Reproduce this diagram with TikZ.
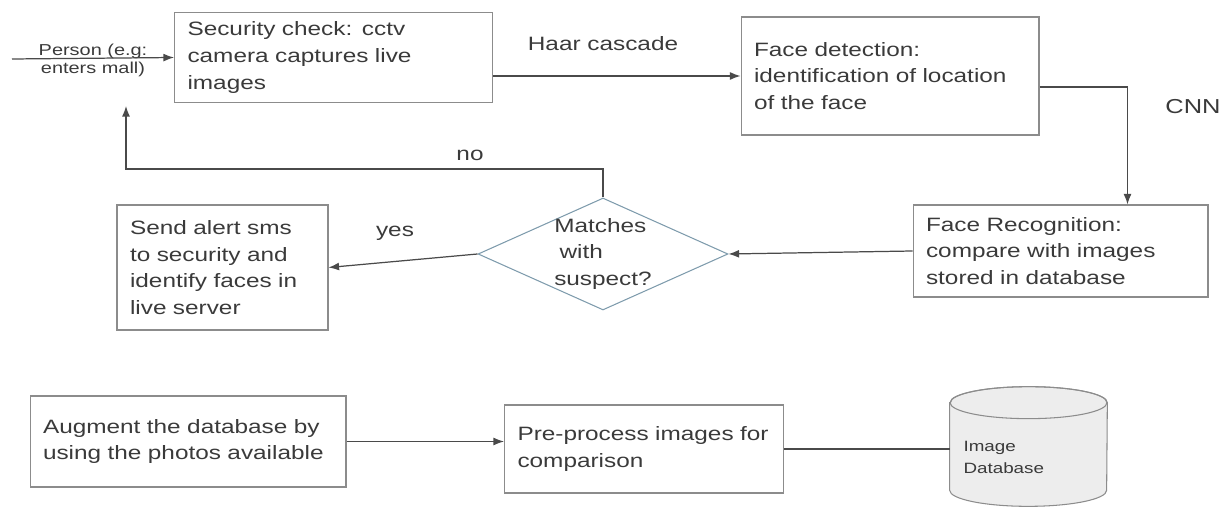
\documentclass[tikz,border=0pt]{standalone}
\usepackage{fontspec}
\setmainfont{Liberation Sans}[FakeStretch=1.26]
\usetikzlibrary{shapes.geometric,arrows.meta,calc,backgrounds}

\definecolor{boxline}{HTML}{8C8C8C}
\definecolor{txtgray}{HTML}{3A3A3A}
\definecolor{wire}{HTML}{4A4A4A}
\definecolor{dialine}{HTML}{7E9BAC}
\definecolor{dbfill}{HTML}{EDEDED}

\begin{document}
\begin{tikzpicture}[x=0.02cm, y=-0.02cm]
    % ===== PARAMETERS =====
    \pgfmathsetmacro{\PX}{0.02}    % one reference pixel in cm
    \pgfmathsetmacro{\Pad}{13*\PX} % left padding of the box text
    \pgfmathsetmacro{\LW}{0.6}     % line width in pt

    % ===== STYLES =====
    \tikzset{
        stepbox/.style={
            draw=boxline, line width=\LW pt, text=txtgray,
            font=\fontsize{11}{15.2}\selectfont, align=left,
            inner xsep=\Pad cm, inner ysep=0pt
        },
        flow/.style={draw=wire, line width=0.7pt, -{Latex[length=6pt,width=4.5pt]}},
        flowlbl/.style={text=txtgray, font=\fontsize{11}{13}\selectfont}
    }

    \useasboundingbox (0,0) rectangle (1230,509);

    % ===== MAIN LOOP =====
    \node[stepbox, text width=5.84cm, minimum height=1.8cm] (security) at (333.5,57.5)
        {Security check: cctv\\camera captures live\\images};
    \node[stepbox, text width=5.44cm, minimum height=2.36cm] (detect) at (890,76)
        {Face detection:\\identification of location\\of the face};
    \node[stepbox, text width=5.38cm, minimum height=1.84cm] (recog) at (1060.5,251)
        {Face Recognition:\\compare with images\\stored in database};
    \node[diamond, draw=dialine, line width=\LW pt, shape aspect=2.2,
          minimum width=5cm, minimum height=2.24cm, inner xsep=0pt, inner ysep=-4pt,
          align=left, text=txtgray, font=\fontsize{11}{15.2}\selectfont] (match) at (603,254)
        {Matches\\\hspace*{3pt}with\\suspect?};
    \node[stepbox, text width=3.70cm, minimum height=2.5cm] (alert) at (222.5,267.5)
        {Send alert sms\\to security and\\identify faces in\\live server};

    % entry of a person
    \coordinate (entry) at (12,59);
    \node[text=txtgray, align=center, font=\fontsize{9}{9.8}\selectfont] (personlbl) at (93,60.5)
        {Person (e.g:\\enters mall)};
    \draw[flow] (entry) -- (security.west);

    % Haar cascade
    \draw[flow] (security.east |- detect.west) -- (detect.west);
    \node[flowlbl] (haarlbl) at (603,44) {Haar cascade};

    % CNN
    \draw[flow] ($(detect.east)+(0,11)$) -| ($(recog.north)+(67,0)$);
    \node[flowlbl, font=\fontsize{11.5}{13}\selectfont] (cnnlbl) at (1193,107) {CNN};

    \draw[flow] (recog.west) -- (match.east);

    % decision
    \coordinate (backtip) at (126,106);
    \draw[flow] (match.north) |- (backtip |- 0,169) -- (backtip);
    \node[flowlbl] (nolbl) at (470,155) {no};
    \draw[flow] (match.west) -- (alert.east);
    \node[flowlbl] (yeslbl) at (395,233) {yes};

    % ===== DATABASE PREPARATION =====
    \node[stepbox, text width=5.80cm, minimum height=1.82cm] (augment) at (188,441.5)
        {Augment the database by\\using the photos available};
    \node[stepbox, text width=5.06cm, minimum height=1.76cm] (preproc) at (644,449)
        {Pre-process images for\\comparison};

    % image database: body node, cylinder drawn behind it
    \node[draw=none, minimum width=3.14cm, minimum height=1.74cm, inner sep=0pt,
          text width=2.6cm, align=left, text=txtgray,
          font=\fontsize{8.5}{12.5}\selectfont] (imgdb) at (1028.5,446.5)
        {\rule{0pt}{18pt}Image\\Database};
    \begin{scope}[on background layer]
    \filldraw[fill=dbfill, draw=boxline, line width=\LW pt]
        (imgdb.north west) -- (imgdb.south west)
        arc[start angle=180, end angle=360, x radius=1.57cm, y radius=0.32cm]
        -- (imgdb.north east)
        arc[start angle=0, end angle=180, x radius=1.57cm, y radius=0.32cm] -- cycle;
    \draw[draw=boxline, line width=\LW pt] (imgdb.north) ellipse[x radius=1.57cm, y radius=0.32cm];
    \end{scope}

    \draw[flow] (augment.east) -- (augment.east -| preproc.west);
    \draw[draw=wire, line width=0.7pt] (preproc.east) -- (preproc.east -| imgdb.west);
\end{tikzpicture}
\end{document}
